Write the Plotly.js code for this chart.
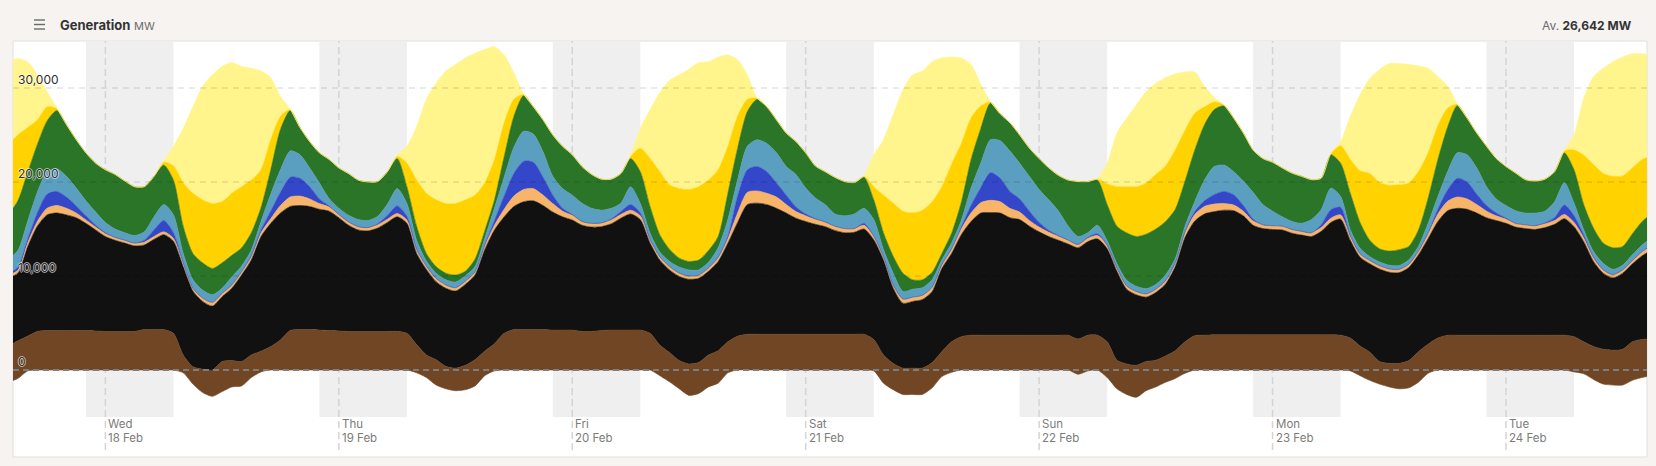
<!DOCTYPE html>
<html><head><meta charset="utf-8">
<script src="https://cdn.plot.ly/plotly-3.0.1.min.js"></script>
<style>html,body{margin:0;padding:0;background:#f6f3f1;}#chart{width:1656px;height:466px;}</style>
</head><body><div id="chart"></div>
<script>
// hourly samples, first sample 2026-02-17 14:00
const startDay = 17, startHour = 14;

const charging = [-1300,-900,-100,0,0,0,0,0,0,0,
 0,0,0,0,0,0,0,0,-300,-1500,
 -2400,-2800,-2300,-1800,-1700,-800,-200,0,0,0,
 0,0,0,0,0,0,0,0,0,0,
 0,0,-300,-800,-1600,-2000,-2200,-2100,-1700,-600,
 -100,0,0,0,0,0,0,0,0,0,
 0,0,0,0,0,0,0,-600,-1250,-2000,
 -2700,-2500,-1800,-1400,-300,0,0,0,0,0,
 0,0,0,0,0,0,0,0,0,-100,
 -1400,-2100,-2600,-2600,-2600,-1900,-700,-250,0,0,
 0,0,0,0,0,0,0,0,0,0,
 -450,-100,0,-800,-2000,-2600,-2900,-2200,-1800,-1300,
 -900,-350,0,0,0,0,0,0,0,0,
 0,0,0,0,0,0,0,0,-100,-600,
 -1100,-1500,-1800,-2000,-1900,-1300,-350,0,0,0,
 0,0,0,0,0,0,0,0,0,0,
 0,-200,-400,-1000,-1500,-1600,-1600,-1100,-800,-600];

const brownCoal = [2500,3100,3600,4100,4200,4200,4200,4200,4200,4150,
 4100,4100,4100,4100,4300,4300,4300,3900,1600,350,
 100,0,900,1000,900,1600,2000,2500,3200,4200,
 4300,4300,4250,4200,4150,4100,4100,4100,4100,4100,
 4100,3900,2700,1600,1100,400,200,500,1100,2000,
 2800,3900,4300,4300,4300,4300,4250,4250,4250,4100,
 4100,4200,4250,4250,4250,4250,3900,2650,1850,1000,
 650,800,1600,2050,3000,3600,3800,3800,3800,3800,
 3800,3800,3800,3800,3800,3800,3800,3800,3800,3250,
 1600,700,200,200,200,800,1950,3000,3550,3700,
 3700,3700,3700,3700,3700,3700,3700,3700,3700,3700,
 3300,3700,3700,3000,1050,650,500,900,1050,1500,
 2050,3000,3650,3700,3750,3750,3750,3750,3750,3750,
 3750,3750,3750,3750,3750,3750,3750,3700,3400,2550,
 1900,900,700,700,1000,1950,2750,3400,3700,3700,
 3700,3700,3700,3700,3700,3700,3700,3700,3700,3700,
 3700,3550,3000,2500,2200,2100,2200,3000,3250,3300];

const blackCoal = [7300,7200,9500,11200,12300,12500,12300,12000,11400,10750,
 10100,9700,9400,9100,9000,9600,10100,9800,9400,8050,
 7200,6800,6900,7700,9200,10100,12200,13100,13500,13200,
 13200,13100,12850,12700,12050,11300,10800,10700,11000,11600,
 12200,11700,9700,9100,8300,8300,8200,8600,9000,10800,
 12100,12400,13100,13600,13700,13200,12550,12050,11700,11300,
 11100,11050,11300,11900,12350,11750,9600,9050,8800,8950,
 9000,8950,8900,9500,10500,12100,13800,13950,13800,13400,
 12900,12350,12000,11700,11450,11050,10800,10850,11200,10600,
 10100,8000,6900,7100,7300,7550,8850,9400,10850,12100,
 13000,13050,13000,12500,12300,11600,11000,10500,10100,9700,
 9700,9950,10250,9900,9450,7950,7500,6850,7200,7650,
 8950,11100,12200,12900,13100,13250,13200,12650,11650,11300,
 11200,11150,10800,10600,10450,11000,11950,12350,10400,9450,
 9400,9850,9700,9650,9900,10300,11250,12400,13250,13500,
 13400,13000,12500,12200,11900,11500,11350,11250,11450,11800,
 12400,11700,10650,9050,8100,7700,8100,8300,8900,9500];

const gas = [300,300,400,500,700,800,700,500,350,300,
 300,300,300,300,300,300,300,300,300,300,
 350,400,350,350,350,350,400,500,800,1000,
 1000,800,600,450,350,350,350,350,350,350,
 350,350,350,350,350,350,350,350,350,400,
 500,800,1100,1300,1300,1100,900,600,500,400,
 400,400,400,400,400,400,350,350,350,350,
 350,350,350,400,500,1000,1300,1300,1200,1200,
 900,700,600,500,500,450,450,400,400,350,
 350,350,450,450,450,450,400,450,600,900,
 1100,1300,1200,1000,800,600,500,450,400,400,
 350,350,350,350,350,350,350,350,350,350,
 400,500,700,800,800,700,600,500,450,400,
 400,400,400,400,400,400,450,450,400,350,
 350,350,350,350,350,400,500,800,1000,1200,
 1100,900,700,500,450,400,400,400,400,400,
 450,450,400,350,350,350,350,350,400,400];

const battery = [200,300,400,900,1500,1500,1200,750,450,200,
 100,0,0,0,200,700,1200,600,100,0,
 0,0,0,0,0,100,300,800,1400,2100,
 1900,1300,500,100,0,0,0,0,100,400,
 800,400,100,0,0,0,0,0,0,100,
 500,1400,2400,3000,2800,1900,900,300,100,0,
 0,0,100,300,600,300,50,0,0,0,
 0,0,0,50,200,1800,2400,2600,2300,1500,
 1000,500,200,100,0,0,0,0,200,50,
 0,0,0,0,0,0,0,50,200,800,
 1600,2950,2500,1800,1400,1000,500,200,100,0,
 0,100,200,0,0,0,0,0,0,0,
 0,100,300,600,1000,1300,1100,600,200,0,
 0,0,0,0,0,300,900,800,100,0,
 0,0,0,0,0,0,100,500,1200,2000,
 1800,1100,600,300,100,0,0,0,100,300,
 1000,700,300,100,0,0,0,0,50,100];

const hydro = [1500,1800,1900,2200,2400,2400,2200,1900,1600,1400,
 1100,900,800,800,900,1400,1700,1900,1000,900,
 850,800,550,850,600,600,900,1800,2400,2800,
 2500,2000,1700,800,650,700,750,750,800,1200,
 1850,1350,950,550,550,550,600,550,550,700,
 1300,2000,2800,3200,3000,2700,2000,2100,2050,1950,
 1600,1350,1150,900,1900,1000,650,500,550,650,
 650,550,600,1000,1800,1700,2500,2850,3000,3200,
 3050,3450,2750,2200,1850,1300,1350,1550,1600,1750,
 750,1250,800,850,800,800,500,600,700,1850,
 2600,3500,4000,4300,3800,3700,3500,3250,2600,1500,
 850,500,900,500,450,600,550,550,500,600,
 450,600,1050,2200,3000,2800,2450,2600,2850,2150,
 1550,1000,850,850,1400,1600,2300,1150,600,600,
 400,400,400,400,450,500,1000,1350,1950,2700,
 2900,2800,2000,1500,1350,1350,1250,1350,1250,1700,
 2400,1350,550,600,700,550,500,600,700,750];

const wind = [4700,5300,5200,5100,5400,6200,5500,5150,5100,5200,
 5600,5800,5500,5200,4800,4300,4200,3700,2900,2800,
 2900,2800,2700,2300,1950,1850,1500,2600,4300,4300,
 2900,2800,3200,4150,4300,4450,4200,4100,3700,3450,
 3200,1800,1500,800,700,700,750,500,800,800,
 900,2200,3300,3800,2900,3400,4400,4500,4300,3900,
 3600,3300,3100,3150,3000,3400,2850,1850,1300,950,
 900,1050,1250,1200,2800,3400,3700,4300,3900,3500,
 3550,3500,3750,3400,3500,3900,3650,3350,3300,2100,
 1800,1800,1950,1000,850,800,700,1050,1950,3050,
 3700,3900,2850,3000,3000,3000,3300,3400,3800,4900,
 5850,5450,4800,3850,4000,5050,5300,5800,5900,5700,
 5250,4800,5500,5900,6050,6300,5700,5100,4500,4900,
 5200,5200,5150,5000,4250,3350,3550,3550,3900,2750,
 1750,1400,1500,1700,1450,1750,2700,3950,4750,5050,
 3900,3700,4300,4300,4150,4000,3550,3400,3400,3200,
 3150,3550,2700,2500,2150,2300,2000,2250,2500,2600];

const solarUtility = [7500,7000,4800,2600,1500,200,0,0,0,0,
 0,0,0,0,0,0,300,1500,4600,6400,
 6700,6900,6500,6600,6500,5600,4000,3200,1400,100,
 0,0,0,0,0,0,0,0,0,0,
 200,2500,4900,6400,7100,7400,7600,7600,6800,5100,
 4300,3600,1800,100,0,0,0,0,0,0,
 0,0,0,0,200,2500,5100,6700,6850,7400,
 7650,7800,7500,7100,5000,3400,1300,100,0,0,
 0,0,0,0,0,0,0,0,100,1400,
 4000,5650,6600,7100,7400,7500,7100,7350,6250,4400,
 2400,100,0,0,0,0,0,0,0,0,
 0,0,100,2200,4200,4900,5300,5450,5800,5900,
 6300,5400,3900,1900,800,100,0,0,0,0,
 0,0,0,0,0,0,100,1850,3600,5500,
 7100,7050,7000,6900,6750,6200,4800,3600,2000,100,
 0,0,0,0,0,0,0,0,0,0,
 200,2100,5250,6750,7400,7600,7500,7000,6600,6100];

const solarRooftop = [9000,8100,7000,4800,1600,100,0,0,0,0,
 0,0,0,0,0,0,200,2100,5800,9200,
 12100,13700,14400,13900,12800,11900,10500,6600,2100,50,
 0,0,0,0,0,0,0,0,0,0,
 200,1800,5700,10000,12400,14100,14800,15100,15100,14200,
 12000,7200,2800,50,0,0,0,0,0,0,
 0,0,0,0,200,2100,5200,8400,11100,12100,
 12800,13200,12600,12000,9700,6000,2600,50,0,0,
 0,0,0,0,0,0,0,0,100,3400,
 5900,9450,12900,14700,14800,14900,13700,11400,9100,5700,
 2300,50,0,0,0,0,0,0,0,0,
 0,0,100,2200,5700,7300,8700,9700,9700,9400,
 8100,6200,4400,2200,500,0,0,0,0,0,
 0,0,0,0,0,0,100,450,4600,8100,
 10100,12000,12950,12900,12600,11250,9000,5200,2350,50,
 0,0,0,0,0,0,0,0,0,0,
 100,1600,6100,9350,11200,12200,12650,12150,11250,10800];

const dayNames = ['Wed','Thu','Fri','Sat','Sun','Mon','Tue'];
const dayDates = ['18 Feb','19 Feb','20 Feb','21 Feb','22 Feb','23 Feb','24 Feb'];
const dayMidnights = ['2026-02-18','2026-02-19','2026-02-20','2026-02-21','2026-02-22','2026-02-23','2026-02-24'];
const nightStarts = ['2026-02-17 22:00','2026-02-18 22:00','2026-02-19 22:00','2026-02-20 22:00','2026-02-21 22:00','2026-02-22 22:00','2026-02-23 22:00'];
const nightEnds = ['2026-02-18 07:00','2026-02-19 07:00','2026-02-20 07:00','2026-02-21 07:00','2026-02-22 07:00','2026-02-23 07:00','2026-02-24 07:00'];
const yTickVals = [0,10000,20000,30000];
const yTickText = ['0','10,000','20,000','30,000'];

const pad = n => String(n).padStart(2,'0');
const times = charging.map((_, i) => {
  const t = startHour + i;
  return '2026-02-' + pad(startDay + Math.floor(t/24)) + ' ' + pad(t % 24) + ':00';
});

const stackSeries = [
  {name:'Brown Coal', v:brownCoal, c:'#714624'},
  {name:'Black Coal', v:blackCoal, c:'#111111'},
  {name:'Gas', v:gas, c:'#f8b468'},
  {name:'Battery', v:battery, c:'#3447c8'},
  {name:'Hydro', v:hydro, c:'#5a9fbf'},
  {name:'Wind', v:wind, c:'#2b7529'},
  {name:'Solar (Utility)', v:solarUtility, c:'#ffd200'},
  {name:'Solar (Rooftop)', v:solarRooftop, c:'#fff58c'}
];

const lineOpt = c => ({color:c, width:0.6, shape:'spline', smoothing:0.7});
const traces = [{
  x: times, y: charging, type:'scatter', mode:'lines', name:'Charging',
  fill:'tozeroy', fillcolor:'#714624', line: lineOpt('#714624'), hoverinfo:'skip'
}];
let cum = times.map(() => 0);
stackSeries.forEach((s, k) => {
  cum = cum.map((c, i) => c + (s.v[i] || 0));
  traces.push({
    x: times, y: cum.slice(), type:'scatter', mode:'lines', name:s.name,
    fill: k === 0 ? 'tozeroy' : 'tonexty', fillcolor:s.c, line: lineOpt(s.c), hoverinfo:'skip'
  });
});

// geometry helpers (paper coords of the plot area: left 13, right 1647, top 41, bottom 417)
const PL = 13, PW = 1634, PB = 417, PH = 376;
const px = p => (p - PL) / PW;
const py = p => (PB - p) / PH;

const shapes = [];
shapes.push({type:'rect', xref:'paper', yref:'paper', x0:0, x1:1, y0:py(457), y1:1,
  fillcolor:'#ffffff', line:{color:'#e3dfdd', width:1}, layer:'below'});
nightStarts.forEach((s, i) => shapes.push({type:'rect', xref:'x', yref:'paper', x0:s, x1:nightEnds[i], y0:0, y1:1,
  fillcolor:'#efefef', line:{width:0}, layer:'below'}));
dayMidnights.forEach(d => shapes.push({type:'line', xref:'x', yref:'paper', x0:d, x1:d, y0:py(450), y1:1,
  line:{color:'#d4d4d4', width:1.5, dash:'7px,4px'}, layer:'below'}));
[10000,20000,30000].forEach(v => shapes.push({type:'line', xref:'paper', yref:'y', x0:0, x1:1, y0:v, y1:v,
  line:{color:'rgba(0,0,0,0.17)', width:1, dash:'6px,5px'}, layer:'above'}));
shapes.push({type:'line', xref:'paper', yref:'y', x0:0, x1:1, y0:0, y1:0,
  line:{color:'#7d7d7d', width:2, dash:'6px,4px'}, layer:'above'});
[20, 24.5, 29].forEach(yy => shapes.push({type:'line', xref:'paper', yref:'paper', x0:px(34), x1:px(45), y0:py(yy), y1:py(yy),
  line:{color:'#6a6a6a', width:1.4}}));

const annotations = [];
annotations.push({xref:'paper', yref:'paper', x:px(58), y:py(25), xanchor:'left', yanchor:'middle', showarrow:false,
  text:"<b>Generation</b> <span style='font-size:11px;color:#6b6b6b'>MW</span>",
  font:{family:'Inter, Roboto, sans-serif', size:13, color:'#333333'}});
annotations.push({xref:'paper', yref:'paper', x:px(1634), y:py(25.5), xanchor:'right', yanchor:'middle', showarrow:false,
  text:"<span style='color:#6b6b6b'>Av.</span> <b>26,642 MW</b>",
  font:{family:'Inter, Roboto, sans-serif', size:12, color:'#333333'}});
dayMidnights.forEach((d, i) => {
  annotations.push({xref:'x', yref:'paper', x:d, y:py(424), xanchor:'left', yanchor:'middle', showarrow:false, xshift:1,
    text:dayNames[i], font:{family:'Inter, Roboto, sans-serif', size:11.5, color:'#7b7b7b'}});
  annotations.push({xref:'x', yref:'paper', x:d, y:py(438), xanchor:'left', yanchor:'middle', showarrow:false, xshift:1,
    text:dayDates[i], font:{family:'Inter, Roboto, sans-serif', size:11.5, color:'#7b7b7b'}});
});

const halo = '-1px 0 rgba(255,255,255,0.55), 1px 0 rgba(255,255,255,0.55), 0 -1px rgba(255,255,255,0.55), 0 1px rgba(255,255,255,0.55)';
const layout = {
  width:1656, height:466,
  margin:{l:13, r:9, t:41, b:49, pad:0},
  paper_bgcolor:'#f6f3f1', plot_bgcolor:'#ffffff',
  showlegend:false,
  xaxis:{type:'date', range:['2026-02-17 14:30','2026-02-24 14:30'], showgrid:false, zeroline:false,
    showticklabels:false, ticks:'', showline:false, fixedrange:true},
  yaxis:{range:[-5000,35000], tickmode:'array', tickvals:yTickVals, ticktext:yTickText, showgrid:false, zeroline:false,
    ticks:'', showline:false, ticklabelposition:'inside', ticklabelstandoff:2, ticklabelshift:-8, layer:'above traces',
    tickfont:{family:'Inter, Roboto, sans-serif', size:12, color:'#2e2e2e', shadow:halo},
    fixedrange:true},
  shapes: shapes,
  annotations: annotations
};

Plotly.newPlot('chart', traces, layout, {staticPlot:true, displayModeBar:false});
</script>
</body></html>
